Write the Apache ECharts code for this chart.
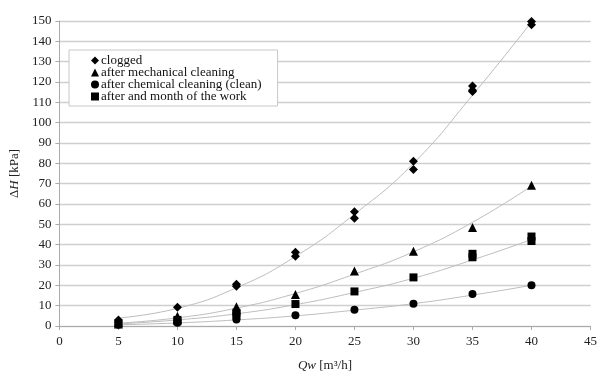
<!DOCTYPE html>
<html>
<head>
<meta charset="utf-8">
<script src="https://cdn.jsdelivr.net/npm/echarts@6/dist/echarts.min.js"></script>
<style>html,body{margin:0;padding:0;background:#fff}#c{width:600px;height:381px}</style>
</head>
<body>
<div id="c"></div>
<script>
// Series names (legend)
const seriesNames = ['clogged', 'after mechanical cleaning', 'after chemical cleaning (clean)', 'after and month of the work'];
// Measured points [Qw, dH]
const cloggedPts = [[5,3],[5,2],[10,9.2],[15,20.5],[15,19.5],[20,36.3],[20,34.3],[25,56.2],[25,53],[30,81],[30,77],[35,118],[35,116],[35,115.3],[40,151.5],[40,149.8],[40,148.2]];
const mechanicalPts = [[5,1.8],[5,1],[10,4.8],[10,3.5],[15,9.5],[15,8],[20,15.5],[25,27],[30,36.8],[35,48.5],[40,69.2]];
const chemicalPts = [[5,0.6],[10,1.6],[15,3.2],[20,5.3],[25,8],[30,11],[35,15.7],[40,20.1]];
const monthPts = [[5,1.2],[10,3],[10,2.4],[15,6.5],[15,5.2],[20,10.8],[25,17],[30,23.9],[35,35.5],[35,33.8],[40,44],[40,41.8]];
// Trend line values at each Qw
const trendX = [5, 10, 15, 20, 25, 30, 35, 40];
const cloggedTrend = [3.9, 8.7, 18.8, 34.2, 55, 80, 113.5, 149.5];
const mechanicalTrend = [1.4, 4, 8.8, 16, 25.5, 36.5, 51, 68.8];
const chemicalTrend = [0.6, 1.5, 3, 5, 7.8, 11, 15.2, 20];
const monthTrend = [1, 3, 6, 10.5, 16.5, 23.5, 32.5, 42.5];
// Axis ticks
const xMin = 0, xMax = 45, xStep = 5;
const yMin = 0, yMax = 150, yStep = 10;

const font = 'Liberation Serif';
const pair = (xs, ys) => xs.map((x, i) => [x, ys[i]]);
const pts = [cloggedPts, mechanicalPts, chemicalPts, monthPts];
const trends = [cloggedTrend, mechanicalTrend, chemicalTrend, monthTrend];
const symbols = ['diamond', 'triangle', 'circle', 'rect'];
const sizes = [9, 9, 8, 8];

const series = [];
trends.forEach((t, i) => {
  series.push({
    type: 'line', name: 'trend' + i, data: pair(trendX, t), smooth: true,
    showSymbol: false, symbol: 'none', silent: true, z: 1,
    lineStyle: { color: '#bdbdbd', width: 1 }
  });
});
pts.forEach((p, i) => {
  series.push({
    type: 'scatter', name: seriesNames[i], data: p, symbol: symbols[i],
    symbolSize: sizes[i], itemStyle: { color: '#000', opacity: 1 }, z: 3
  });
});

const chart = echarts.init(document.getElementById('c'), null, { renderer: 'canvas' });
chart.setOption({
  animation: false,
  backgroundColor: '#fff',
  textStyle: { fontFamily: font },
  grid: { left: 57, right: 8, top: 21, bottom: 55, containLabel: false },
  legend: {
    data: seriesNames.map((n, i) => ({ name: n, icon: symbols[i] })),
    orient: 'vertical', left: 69, top: 50,
    padding: [4, 16, 3, 22],
    itemWidth: 8, itemHeight: 8, itemGap: -1,
    backgroundColor: '#fff', borderColor: '#c8c8c8', borderWidth: 1,
    textStyle: { fontFamily: font, fontSize: 13, color: '#111', lineHeight: 12, padding: [0, 0, 0, -3] },
    itemStyle: { color: '#000', opacity: 1 }
  },
  xAxis: {
    type: 'value', min: xMin, max: xMax, interval: xStep,
    name: '{i|Qw} [m³/h]', nameLocation: 'middle', nameGap: 33,
    nameTextStyle: { fontFamily: font, fontSize: 13, color: '#222', rich: { i: { fontStyle: 'italic', fontFamily: font, fontSize: 13 } } },
    axisLine: { show: true, lineStyle: { color: '#aaa', width: 1 } },
    axisTick: { show: true, length: 4, lineStyle: { color: '#aaa' } },
    axisLabel: { fontFamily: font, fontSize: 13, color: '#222', margin: 9 },
    splitLine: { show: false }
  },
  yAxis: {
    type: 'value', min: yMin, max: yMax, interval: yStep,
    name: 'Δ{i|H} [kPa]', nameLocation: 'middle', nameGap: 38, nameRotate: 90,
    nameTextStyle: { fontFamily: font, fontSize: 13, color: '#222', rich: { i: { fontStyle: 'italic', fontFamily: font, fontSize: 13 } } },
    axisLine: { show: true, lineStyle: { color: '#aaa', width: 1 } },
    axisTick: { show: true, length: 4, lineStyle: { color: '#aaa' } },
    axisLabel: { fontFamily: font, fontSize: 13, color: '#222', margin: 8 },
    splitLine: { show: true, lineStyle: { color: '#cfcfcf', width: 1.3 } }
  },
  series: series
});
</script>
</body>
</html>
